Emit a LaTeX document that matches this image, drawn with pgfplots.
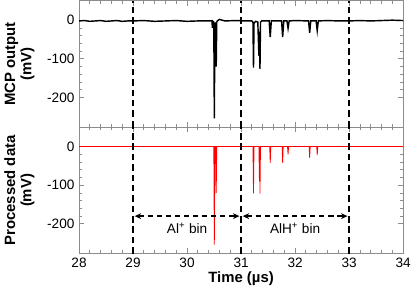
\documentclass[border=0pt]{standalone}
\usepackage{pgfplots}
\pgfplotsset{compat=1.18}
\usepackage{fontspec}
\setmainfont{Liberation Sans}
\usetikzlibrary{arrows.meta}
\definecolor{framegray}{RGB}{140,140,140}
\begin{document}
\begin{tikzpicture}
\pgfplotsset{
  every axis/.append style={
    scale only axis, width=250pt, height=97.5pt,
    xmin=28, xmax=34, ymin=-277, ymax=50,
    axis line style={framegray, line width=0.6pt},
    major tick style={framegray, line width=0.6pt},
    minor tick style={framegray, line width=0.6pt},
    major tick length=4pt, minor tick length=2.5pt,
    xtick={28,29,...,34}, minor x tick num=4,
    ytick={-200,-100,0}, minor y tick num=4,
    tick align=inside,
    tick label style={font=\fontsize{10.5}{12}\selectfont},
    /pgf/number format/assume math mode=true,
    yticklabel style={/pgf/number format/.cd, 1000 sep={}},
    label style={font=\bfseries\fontsize{11.5}{12.5}\selectfont, align=center},
    clip=false,
  }
}
% top panel
\begin{axis}[name=top, at={(0,0)}, anchor=south west,
  xticklabels={}, ylabel={MCP output\\(mV)},
  ylabel style={yshift=3pt}]
\addplot[black, line width=1.1pt] coordinates {
(28.00,-2)(28.10,-1)(28.20,-3)(28.30,-2)(28.40,-1)(28.50,-3)(28.60,-2)(28.70,-1)(28.80,-3)(28.90,-2)
(29.00,-2)(29.20,-1)(29.40,-3)(29.60,-2)(29.80,-1)(30.00,-3)(30.20,-2)(30.40,-2)
(30.46,-2)(30.47,-20)(30.48,-3)(30.495,-5)(30.505,-254)(30.515,-10)(30.53,-8)(30.54,-120)(30.55,-5)(30.56,-2)
(30.60,2)(30.70,-2)(30.90,-1)(31.10,-2)(31.20,-2)
(31.22,-5)(31.23,-123)(31.24,-8)(31.27,-3)(31.31,-5)(31.33,-92)(31.34,-30)(31.35,-126)(31.36,-5)(31.38,-2)
(31.52,-2)(31.54,-44)(31.56,-2)(31.75,-2)(31.77,-44)(31.79,-2)(31.85,-2)(31.87,-21)(31.89,-2)
(32.00,-1)(32.25,-2)(32.27,-33)(32.29,-2)(32.39,-2)(32.41,-27)(32.43,-2)
(32.60,-1)(32.80,-2)(33.00,-2)(33.20,-1)(33.40,-2)(33.60,-1)(33.80,0)(34.00,-1)
};
\addplot[black, line width=1.3pt, dash pattern=on 5pt off 3pt] coordinates {(29,-277)(29,50)};
\addplot[black, line width=1.3pt, dash pattern=on 5pt off 3pt] coordinates {(31,-277)(31,50)};
\addplot[black, line width=1.3pt, dash pattern=on 5pt off 3pt] coordinates {(33,-277)(33,50)};
\end{axis}
% bottom panel
\begin{axis}[at={(top.south west)}, anchor=north west,
  xlabel={Time (\textmu s)}, ylabel={Processed data\\(mV)},
  ylabel style={yshift=3pt}, xlabel style={yshift=4pt}]
\addplot[red, line width=0.6pt] coordinates {
(28.00,0)(30.49,0)(30.495,0)(30.505,-254)(30.515,0)(30.53,0)(30.54,-120)(30.55,0)
(31.22,0)(31.23,-121)(31.24,0)(31.33,0)(31.34,-90)(31.345,0)(31.35,-122)(31.36,0)
(31.53,0)(31.54,-42)(31.55,0)(31.76,0)(31.77,-42)(31.78,0)(31.86,0)(31.87,-20)(31.88,0)
(32.26,0)(32.27,-29)(32.28,0)(32.40,0)(32.41,-22)(32.42,0)(34.00,0)
};
\addplot[black, line width=1.3pt, dash pattern=on 5pt off 3pt] coordinates {(29,-277)(29,50)};
\addplot[black, line width=1.3pt, dash pattern=on 5pt off 3pt] coordinates {(31,-277)(31,50)};
\addplot[black, line width=1.3pt, dash pattern=on 5pt off 3pt] coordinates {(33,-277)(33,50)};
\draw[black, line width=1.1pt, dash pattern=on 4pt off 3pt, {Stealth[length=5pt,width=4.5pt]}-{Stealth[length=5pt,width=4.5pt]}]
  (axis cs:29.03,-180) -- (axis cs:30.97,-180);
\draw[black, line width=1.1pt, dash pattern=on 4pt off 3pt, {Stealth[length=5pt,width=4.5pt]}-{Stealth[length=5pt,width=4.5pt]}]
  (axis cs:31.03,-180) -- (axis cs:32.97,-180);
\node[font=\fontsize{10.5}{12}\selectfont] at (axis cs:30,-212) {Al\textsuperscript{+} bin};
\node[font=\fontsize{10.5}{12}\selectfont] at (axis cs:32,-212) {AlH\textsuperscript{+} bin};
\end{axis}
\end{tikzpicture}
\end{document}
